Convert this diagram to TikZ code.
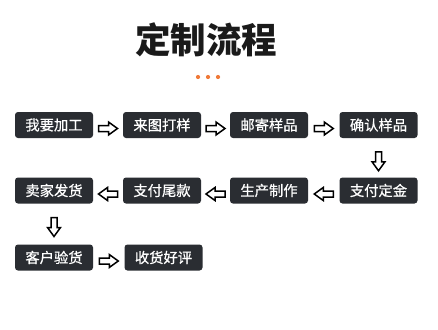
\documentclass[tikz,border=0pt]{standalone}
\usepackage{fontspec}
\newfontfamily\cjk{Noto Sans CJK SC}
\newfontfamily\cjkm[FakeBold=0.7]{Noto Sans CJK SC}
\usetikzlibrary{positioning,calc}
\definecolor{boxc}{HTML}{2A2D32}
\definecolor{dotc}{HTML}{F07A3A}
\definecolor{titlec}{HTML}{1A1A1A}
\tikzset{
  stepbox/.style={rectangle, rounded corners=3pt, fill=boxc, text=white,
    minimum width=78pt, minimum height=26pt, inner sep=0pt, font=\cjkm\fontsize{14.3}{15}\selectfont},
  arrowline/.style={draw=black, fill=white, line width=1.5pt, line join=miter},
  harrow/.pic={\path[arrowline] (-9.5,-3)--(0.5,-3)--(0.5,-6.5)--(9.5,0)--(0.5,6.5)--(0.5,3)--(-9.5,3)--cycle;},
}
\begin{document}
\begin{tikzpicture}[x=1pt,y=1pt]
\useasboundingbox (0,0) rectangle (438,-329);
\fill[white] (0,0) rectangle (438,-329);
\node[font=\cjk\bfseries\fontsize{35.5}{36}\selectfont, text=titlec] (title) at (206,-40) {定制流程};
\foreach \i/\xx in {1/198,2/208,3/218}{
  \fill[dotc] (\xx,-77) circle (2.1pt);
}
% row 1
\node[stepbox] (a1) at (54,-125) {我要加工};
\node[stepbox] (a2) at (162,-125) {来图打样};
\node[stepbox] (a3) at (269,-125) {邮寄样品};
\node[stepbox] (a4) at (378.5,-125) {确认样品};
% row 2
\node[stepbox] (b4) at (378.5,-190.5) {支付定金};
\node[stepbox] (b3) at (269,-190.5) {生产制作};
\node[stepbox] (b2) at (162,-190.5) {支付尾款};
\node[stepbox] (b1) at (54,-190.5) {卖家发货};
% row 3
\node[stepbox] (c1) at (54,-257.5) {客户验货};
\node[stepbox] (c2) at (163.5,-257.5) {收货好评};
% arrows
\pic at ($(a1.east)!0.5!(a2.west)+(0,-3.5)$) {harrow};
\pic at ($(a2.east)!0.5!(a3.west)+(0,-3.5)$) {harrow};
\pic at ($(a3.east)!0.5!(a4.west)+(0,-3.5)$) {harrow};
\pic[rotate=-90] at ($(a4.south)!0.5!(b4.north)+(0,-3.5)$) {harrow};
\pic[rotate=180] at ($(b4.west)!0.5!(b3.east)+(0,-3.5)$) {harrow};
\pic[rotate=180] at ($(b3.west)!0.5!(b2.east)+(0,-3.5)$) {harrow};
\pic[rotate=180] at ($(b2.west)!0.5!(b1.east)+(0,-3.5)$) {harrow};
\pic[rotate=-90] at ($(b1.south)!0.5!(c1.north)+(0,-3)$) {harrow};
\pic at ($(c1.east)!0.5!(c2.west)+(0,-3.5)$) {harrow};
\end{tikzpicture}
\end{document}
